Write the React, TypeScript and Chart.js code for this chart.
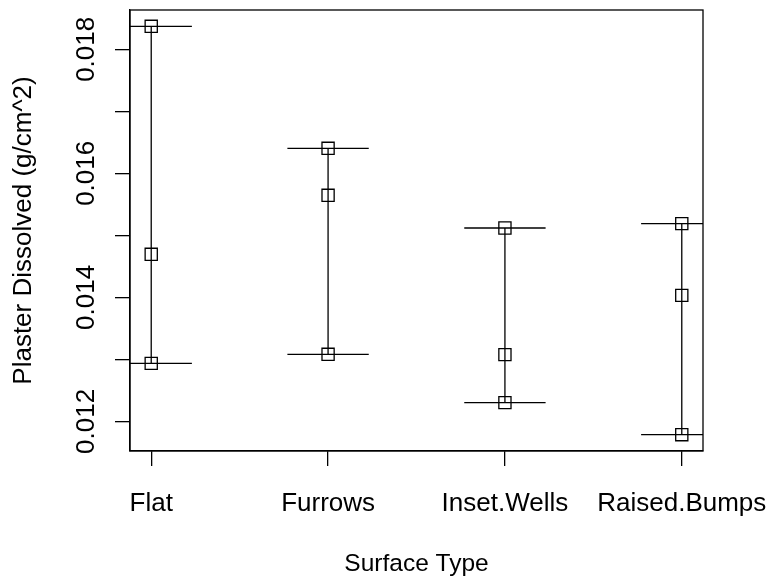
import React, { useEffect, useRef } from "react";
import { Chart, registerables } from "chart.js";

Chart.register(...registerables);

const categories = ["Flat", "Furrows", "Inset.Wells", "Raised.Bumps"];
const maxValues = [0.018371, 0.016403, 0.015118, 0.015189];
const meanValues = [0.014694, 0.015645, 0.013076, 0.014032];
const minValues = [0.012935, 0.013081, 0.012302, 0.011785];
const yTickValues = [0.012, 0.013, 0.014, 0.015, 0.016, 0.017, 0.018];
const yTickLabels = ["0.012", "", "0.014", "", "0.016", "", "0.018"];
const xTickValues = [1, 2, 3, 4];

const yTitle = "Plaster Dissolved (g/cm^2)";
const xTitle = "Surface Type";

const CAP_HALF = 0.23;
const FONT = "'Liberation Sans', Arial, sans-serif";
const LW = 1.3;

export default function App() {
  const ref = useRef<HTMLCanvasElement | null>(null);

  useEffect(() => {
    document.body.style.margin = "0";
    const canvas = ref.current;
    if (!canvas) return;

    const datasets: any[] = [];
    categories.forEach((_, i) => {
      const x = i + 1;
      const base = {
        type: "line",
        showLine: true,
        pointRadius: 0,
        borderColor: "#000",
        borderWidth: LW,
        fill: false,
      };
      datasets.push({ ...base, data: [{ x, y: minValues[i] }, { x, y: maxValues[i] }] });
      datasets.push({ ...base, data: [{ x: x - CAP_HALF, y: maxValues[i] }, { x: x + CAP_HALF, y: maxValues[i] }] });
      datasets.push({ ...base, data: [{ x: x - CAP_HALF, y: minValues[i] }, { x: x + CAP_HALF, y: minValues[i] }] });
    });
    const pts: any[] = [];
    categories.forEach((_, i) => {
      pts.push({ x: i + 1, y: maxValues[i] });
      pts.push({ x: i + 1, y: meanValues[i] });
      pts.push({ x: i + 1, y: minValues[i] });
    });
    datasets.push({
      type: "scatter",
      data: pts,
      pointStyle: "rect",
      pointRadius: 8.6,
      pointBackgroundColor: "rgba(0,0,0,0)",
      pointBorderColor: "#000",
      pointBorderWidth: LW,
      showLine: false,
    });

    const boxPlugin = {
      id: "box",
      afterDraw(chart: any) {
        const { ctx, chartArea } = chart;
        ctx.save();
        ctx.strokeStyle = "#000";
        ctx.lineWidth = LW;
        ctx.strokeRect(chartArea.left, chartArea.top, chartArea.right - chartArea.left, chartArea.bottom - chartArea.top);
        ctx.restore();
      },
    };
    const bg = {
      id: "bg",
      beforeDraw(chart: any) {
        const { ctx, width, height } = chart;
        ctx.save();
        ctx.fillStyle = "#fff";
        ctx.fillRect(0, 0, width, height);
        ctx.restore();
      },
    };

    const chart = new Chart(canvas, {
      type: "scatter",
      data: { datasets },
      plugins: [bg, boxPlugin],
      options: {
        animation: false,
        responsive: false,
        devicePixelRatio: 1,
        layout: { padding: { left: 0, right: 65, top: 10, bottom: 0 } },
        plugins: { legend: { display: false }, tooltip: { enabled: false } },
        scales: {
          x: {
            type: "linear",
            min: 0.88,
            max: 4.12,
            afterBuildTicks: (s: any) => {
              s.ticks = xTickValues.map((v) => ({ value: v }));
            },
            afterFit: (s: any) => {
              s.height = 131;
              s.paddingLeft = 0;
              s.paddingRight = 0;
            },
            ticks: {
              autoSkip: false,
              maxRotation: 0,
              minRotation: 0,
              padding: 22,
              color: "#000",
              font: { family: FONT, size: 26 },
              callback: (v: any) => categories[Math.round(Number(v)) - 1] ?? "",
            },
            grid: { display: true, drawOnChartArea: false, drawTicks: true, tickLength: 15, color: "#000", lineWidth: LW },
            border: { display: true, color: "#000", width: LW },
            title: { display: true, text: xTitle, color: "#000", font: { family: FONT, size: 24.5 }, padding: { top: 0, bottom: 3 } },
          },
          y: {
            type: "linear",
            min: 0.011522,
            max: 0.018634,
            afterBuildTicks: (s: any) => {
              s.ticks = yTickValues.map((v) => ({ value: v }));
            },
            afterFit: (s: any) => {
              s.width = 130;
              s.paddingTop = 0;
              s.paddingBottom = 0;
            },
            ticks: {
              autoSkip: false,
              minRotation: 90,
              maxRotation: 90,
              crossAlign: "center",
              padding: -4.5,
              color: "#000",
              font: { family: FONT, size: 26 },
              callback: (_v: any, idx: number) => yTickLabels[idx] ?? "",
            },
            grid: { display: true, drawOnChartArea: false, drawTicks: true, tickLength: 15, color: "#000", lineWidth: LW },
            border: { display: true, color: "#000", width: LW },
            title: { display: true, text: yTitle, color: "#000", font: { family: FONT, size: 26 }, padding: { top: 8, bottom: 0 } },
          },
        },
      } as any,
    });
    return () => chart.destroy();
  }, []);

  return (
    <div style={{ width: 768, height: 582 }}>
      <canvas ref={ref} width={768} height={582} style={{ display: "block" }} />
    </div>
  );
}
